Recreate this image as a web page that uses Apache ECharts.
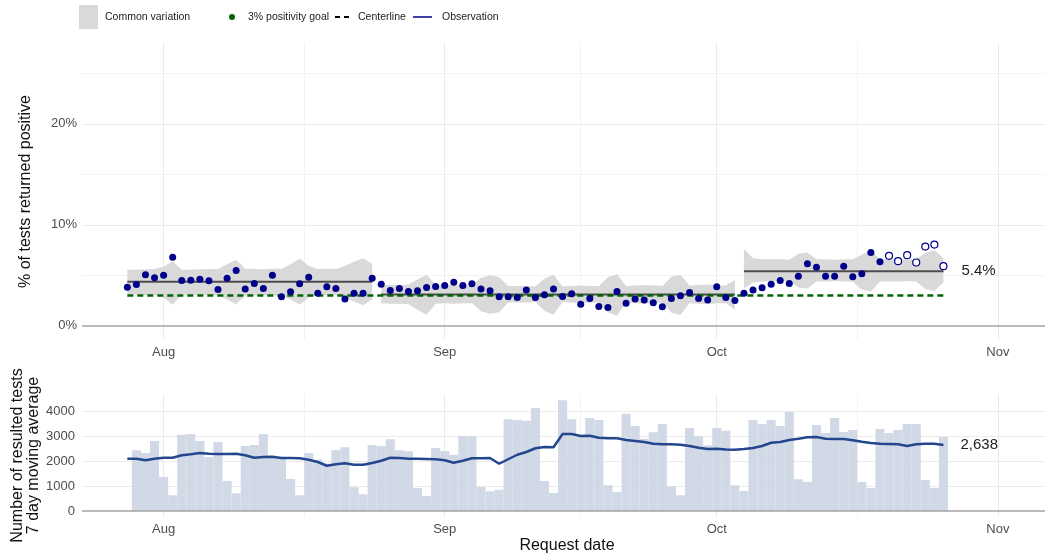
<!DOCTYPE html>
<html>
<head>
<meta charset="utf-8">
<title>Test positivity</title>
<script src="https://cdn.jsdelivr.net/npm/echarts@6/dist/echarts.min.js"></script>
<style>
  html, body { margin: 0; padding: 0; background: #fff; }
  #chart { width: 1050px; height: 555px; }
</style>
</head>
<body>
<div id="chart"></div>
<script>
var DAY = 24 * 3600 * 1000;
function day(s) {
    var p = s.split('-');
    return Date.UTC(+p[0], +p[1] - 1, +p[2]);
}

// first request date, one value per day after it
var firstDay = '2020-07-28';

// % of tests returned positive
var positivity = [
    3.83, 4.09, 5.05, 4.75, 5.02, 6.80, 4.49, 4.52, 4.62, 4.46, 3.60, 4.72, 5.48, 3.66,
    4.19, 3.70, 5.02, 2.87, 3.37, 4.16, 4.82, 3.23, 3.86, 3.70, 2.67, 3.23, 3.23, 4.72,
    4.11, 3.50, 3.70, 3.40, 3.47, 3.80, 3.89, 3.99, 4.32, 3.99, 4.16, 3.66, 3.47, 2.87,
    2.87, 2.81, 3.56, 2.81, 3.07, 3.66, 2.90, 3.17, 2.15, 2.71, 1.91, 1.82, 3.40, 2.24,
    2.67, 2.57, 2.28, 1.88, 2.71, 2.97, 3.30, 2.71, 2.57, 3.86, 2.81, 2.51,
    3.23, 3.56, 3.76, 4.13, 4.49, 4.19, 4.92, 6.14, 5.81, 4.92, 4.92, 5.91, 4.85, 5.15,
    7.26, 6.34, 6.93, 6.40, 7.00, 6.27, 7.85, 8.05, 5.91
];
// common variation band
var upperLimit = [
    5.55, 5.55, 5.6, 5.62, 5.85, 6.4, 5.55, 5.55, 5.6, 5.62, 5.62, 6.1, 6.55, 5.65,
    5.65, 5.6, 5.65, 5.65, 6.1, 6.65, 5.95, 5.62, 5.65, 5.62, 5.95, 6.35, 6.7, 6.15,
    4.0, 4.05, 4.05, 4.1, 4.6, 5.05, 4.05, 4.0, 4.05, 4.0, 4.0, 4.75, 5.0, 4.8,
    3.95, 3.95, 3.95, 3.9, 4.7, 5.05, 3.9, 3.95, 4.0, 3.95, 3.95, 4.8, 5.1, 3.95,
    4.0, 4.05, 4.0, 3.95, 4.85, 5.05, 4.0, 4.05, 4.1, 4.0, 4.0, 4.55,
    7.6, 6.7, 6.6, 6.6, 6.6, 6.55, 7.15, 7.25, 6.6, 6.6, 6.55, 6.6, 6.6, 7.05,
    7.5, 6.6, 6.6, 6.6, 6.55, 6.6, 7.2, 7.5, 6.7
];
var lowerLimit = [
    3.1, 3.1, 3.05, 3.05, 2.8, 2.1, 3.1, 3.1, 3.05, 3.05, 3.05, 2.6, 2.15, 3.0,
    3.0, 3.05, 3.0, 3.0, 2.6, 2.1, 2.8, 3.05, 3.0, 3.05, 2.8, 2.4, 2.05, 2.6,
    2.25, 2.2, 2.2, 2.15, 1.6, 1.1, 2.2, 2.25, 2.2, 2.25, 2.25, 1.45, 1.2, 1.35,
    2.3, 2.3, 2.3, 2.35, 1.5, 1.1, 2.35, 2.3, 2.25, 2.3, 2.3, 1.35, 1.0, 2.3,
    2.25, 2.2, 2.25, 2.3, 1.3, 1.1, 2.25, 2.2, 2.15, 2.25, 2.25, 1.6,
    3.7, 4.3, 4.4, 4.4, 4.4, 4.45, 3.8, 3.7, 4.4, 4.4, 4.45, 4.4, 4.4, 3.6,
    3.4, 4.4, 4.4, 4.4, 4.45, 4.4, 3.65, 3.45, 4.3
];
// resulted tests per day and 7 day moving average
var tests = [
    null, 2430, 2320, 2800, 1360, 630, 3050, 3080, 2800, 2160, 2760, 1200, 710, 2600,
    2640, 3080, 2200, 2150, 1280, 630, 2320, 2050, 1900, 2430, 2550, 950, 670, 2640,
    2600, 2870, 2430, 2390, 920, 600, 2520, 2400, 2250, 3000, 3000, 960, 790, 850,
    3670, 3640, 3610, 4120, 1200, 720, 4430, 3670, 3050, 3720, 3640, 1030, 760, 3890,
    3400, 2890, 3150, 3480, 990, 630, 3320, 2990, 2630, 3320, 3210, 1030,
    800, 3640, 3480, 3640, 3400, 3960, 1270, 1160, 3440, 3120, 3720, 3160, 3240, 1160,
    920, 3280, 3120, 3240, 3480, 3480, 1240, 920, 2960
];
var movingAvg = [
    2093, 2093, 2030, 2090, 2130, 2130, 2230, 2270, 2320, 2290, 2280, 2280, 2290, 2230,
    2130, 2160, 2170, 2120, 2120, 2110, 2050, 1960, 1810, 1870, 1910, 1850, 1850, 1920,
    2010, 2130, 2120, 2090, 2090, 2080, 2070, 2030, 1930, 2010, 2110, 2110, 2120, 1890,
    2070, 2250, 2360, 2510, 2560, 2550, 3080, 3080, 3000, 3010, 2930, 2910, 2910, 2840,
    2800, 2760, 2690, 2670, 2670, 2650, 2600, 2530, 2480, 2490, 2460, 2450,
    2480, 2520, 2600, 2730, 2760, 2840, 2890, 2950, 2960, 2890, 2880, 2880, 2830, 2770,
    2720, 2690, 2680, 2670, 2600, 2670, 2690, 2690, 2638
];
// phases of the control chart
var phaseStart = ['2020-07-28', '2020-08-25', '2020-10-04'];
var centerline = [4.36, 3.1, 5.4];
var goal = 3;
var provisionalDays = 7;

var monthTicks = ['2020-08-01', '2020-09-01', '2020-10-01', '2020-11-01'];
var midMonthTicks = [day('2020-08-16') + DAY / 2, day('2020-09-16'), day('2020-10-16') + DAY / 2];
var monthNames = ['Jan', 'Feb', 'Mar', 'Apr', 'May', 'Jun', 'Jul', 'Aug', 'Sep', 'Oct', 'Nov', 'Dec'];

var t0 = day(firstDay);
var dates = positivity.map(function (v, i) { return t0 + i * DAY; });
var n = dates.length;
var phaseIdx = phaseStart.map(function (s) { return Math.round((day(s) - t0) / DAY); });
var phaseEnd = phaseIdx.map(function (s, k) { return k < phaseIdx.length - 1 ? phaseIdx[k + 1] - 1 : n - 1; });

var myChart = echarts.init(document.getElementById('chart'));

function pairs(arr, from, to) {
    var out = [];
    for (var i = from; i <= to; i++) out.push([dates[i], arr[i]]);
    return out;
}

// background grid lines
function gridLines(idx, major, minor) {
    var data = [];
    monthTicks.forEach(function (m) {
        data.push({ xAxis: day(m), lineStyle: { color: '#ebebeb', width: 1, type: 'solid' } });
    });
    midMonthTicks.forEach(function (m) {
        data.push({ xAxis: m, lineStyle: { color: '#f3f3f3', width: 1, type: 'solid' } });
    });
    major.forEach(function (v) {
        data.push({ yAxis: v, lineStyle: { color: '#ebebeb', width: 1, type: 'solid' } });
    });
    minor.forEach(function (v) {
        data.push({ yAxis: v, lineStyle: { color: '#f3f3f3', width: 1, type: 'solid' } });
    });
    return {
        type: 'line', xAxisIndex: idx, yAxisIndex: idx, data: [], silent: true, z: 0,
        markLine: { silent: true, z: 0, symbol: ['none', 'none'], label: { show: false }, data: data }
    };
}

function zeroLine(idx) {
    return {
        type: 'line', xAxisIndex: idx, yAxisIndex: idx, data: [], silent: true, z: 6,
        markLine: {
            silent: true, z: 6, symbol: ['none', 'none'], label: { show: false },
            data: [{ yAxis: 0, lineStyle: { color: '#a3a3a3', width: 1.5, type: 'solid' } }]
        }
    };
}

var series = [gridLines(0, [10, 20], [5, 15, 25]), gridLines(1, [1000, 2000, 3000, 4000], [])];

// common variation band, one polygon per phase
series.push({
    name: 'Common variation', type: 'custom', z: 1, silent: true,
    data: phaseIdx.map(function (s, k) { return [dates[s], centerline[k]]; }),
    renderItem: function (params, api) {
        var k = params.dataIndex;
        var pts = [];
        for (var i = phaseIdx[k]; i <= phaseEnd[k]; i++) pts.push(api.coord([dates[i], upperLimit[i]]));
        for (var j = phaseEnd[k]; j >= phaseIdx[k]; j--) pts.push(api.coord([dates[j], lowerLimit[j]]));
        return { type: 'polygon', shape: { points: pts }, style: { fill: '#d9d9d9' } };
    }
});

phaseIdx.forEach(function (s, k) {
    var cl = {
        name: 'Centerline', type: 'line', symbol: 'none', z: 2, silent: true,
        data: [[dates[s], centerline[k]], [dates[phaseEnd[k]], centerline[k]]],
        lineStyle: { color: '#4d4d4d', width: 2 }
    };
    if (k === phaseIdx.length - 1) {
        cl.endLabel = {
            show: true, distance: 18, fontSize: 15, color: '#222',
            formatter: function (p) { return p.value[1].toFixed(1) + '%'; }
        };
    }
    series.push(cl);
});

series.push({
    name: '3% positivity goal', type: 'line', symbol: 'none', z: 3, silent: true,
    data: [[dates[0], goal], [dates[n - 1], goal]],
    lineStyle: { color: '#006400', width: 2.5, type: [6, 4] }
});

series.push({
    name: 'Observation', type: 'scatter', z: 4, symbolSize: 7,
    data: pairs(positivity, 0, n - 1 - provisionalDays),
    itemStyle: { color: '#00008b', opacity: 1 }
});
series.push({
    name: 'Observation', type: 'scatter', z: 4, symbolSize: 7,
    data: pairs(positivity, n - provisionalDays, n - 1),
    itemStyle: { color: '#fff', borderColor: '#00008b', borderWidth: 1.2, opacity: 1 }
});

// daily bars one day wide (custom, a bar series would pad the x extent)
series.push({
    type: 'custom', xAxisIndex: 1, yAxisIndex: 1, z: 2, silent: true,
    data: pairs(tests, 0, n - 1).filter(function (d) { return d[1] != null; }),
    renderItem: function (params, api) {
        var top = api.coord([api.value(0), api.value(1)]);
        var base = api.coord([api.value(0), 0]);
        var w = api.size([DAY, 0])[0];
        return {
            type: 'rect',
            shape: { x: top[0] - w / 2, y: top[1], width: w, height: base[1] - top[1] },
            style: { fill: '#d1d8e6' }
        };
    }
});
series.push({
    type: 'line', xAxisIndex: 1, yAxisIndex: 1, z: 3, symbol: 'none',
    data: pairs(movingAvg, 0, n - 1),
    lineStyle: { color: '#24468e', width: 2.5 },
    endLabel: {
        show: true, distance: 17, fontSize: 15, color: '#222',
        formatter: function (p) { return p.value[1].toLocaleString('en-US'); }
    }
});
series.push(zeroLine(0), zeroLine(1));

// dates as ms on a value axis, labels at month starts
function xAxisOf(idx) {
    return {
        type: 'value', gridIndex: idx,
        min: day('2020-07-23'),
        max: day('2020-11-06') + 0.2 * DAY,
        axisLine: { show: false },
        axisTick: { show: false },
        splitLine: { show: false },
        axisLabel: {
            customValues: monthTicks.map(day),
            formatter: function (v) { return monthNames[new Date(v).getUTCMonth()]; },
            color: '#4d4d4d', fontSize: 13, margin: 6
        }
    };
}

var xBottom = xAxisOf(1);
xBottom.name = 'Request date';
xBottom.nameLocation = 'middle';
xBottom.nameGap = 21;
xBottom.nameTextStyle = { fontSize: 16, color: '#111', padding: [0, 0, 0, 7] };

var option = {
    animation: false,
    backgroundColor: '#fff',
    textStyle: { fontFamily: 'Liberation Sans, Arial, sans-serif' },
    grid: [
        { left: 82, right: 5, top: 43, height: 297, outerBoundsMode: 'none' },
        { left: 82, right: 5, top: 394, height: 123, outerBoundsMode: 'none' }
    ],
    xAxis: [xAxisOf(0), xBottom],
    yAxis: [{
        type: 'value', gridIndex: 0, min: -1.4, max: 28,
        axisLine: { show: false }, axisTick: { show: false }, splitLine: { show: false },
        axisLabel: { customValues: [0, 10, 20], formatter: '{value}%', color: '#4d4d4d', fontSize: 13, margin: 5 },
        name: '% of tests returned positive', nameLocation: 'middle', nameGap: 48,
        nameMoveOverlap: false,
        nameTextStyle: { fontSize: 16, color: '#111' }
    }, {
        type: 'value', gridIndex: 1, min: -240, max: 4680,
        axisLine: { show: false }, axisTick: { show: false }, splitLine: { show: false },
        axisLabel: {
            customValues: [0, 1000, 2000, 3000, 4000],
            formatter: function (v) { return String(v); },
            color: '#4d4d4d', fontSize: 13, margin: 7
        },
        name: 'Number of resulted tests\n7 day moving average', nameLocation: 'middle', nameGap: 40,
        nameMoveOverlap: false,
        nameTextStyle: { fontSize: 16, color: '#111', lineHeight: 16, align: 'center' }
    }],
    // legend drawn by hand, the keys differ in size
    graphic: [
        { type: 'rect', shape: { x: 79, y: 5, width: 19, height: 24 }, style: { fill: '#d9d9d9' } },
        { type: 'text', x: 105, y: 17, style: { text: 'Common variation', fontSize: 10.5, fill: '#222', verticalAlign: 'middle' } },
        { type: 'circle', shape: { cx: 232, cy: 17, r: 3 }, style: { fill: '#006400' } },
        { type: 'text', x: 248, y: 17, style: { text: '3% positivity goal', fontSize: 10.5, fill: '#222', verticalAlign: 'middle' } },
        { type: 'line', shape: { x1: 335, y1: 17, x2: 351, y2: 17 }, style: { stroke: '#000', lineWidth: 2, lineDash: [5, 4] } },
        { type: 'text', x: 358, y: 17, style: { text: 'Centerline', fontSize: 10.5, fill: '#222', verticalAlign: 'middle' } },
        { type: 'line', shape: { x1: 413, y1: 17, x2: 432, y2: 17 }, style: { stroke: '#00008b', lineWidth: 1.5 } },
        { type: 'text', x: 442, y: 17, style: { text: 'Observation', fontSize: 10.5, fill: '#222', verticalAlign: 'middle' } }
    ],
    series: series
};

myChart.setOption(option);
</script>
</body>
</html>
